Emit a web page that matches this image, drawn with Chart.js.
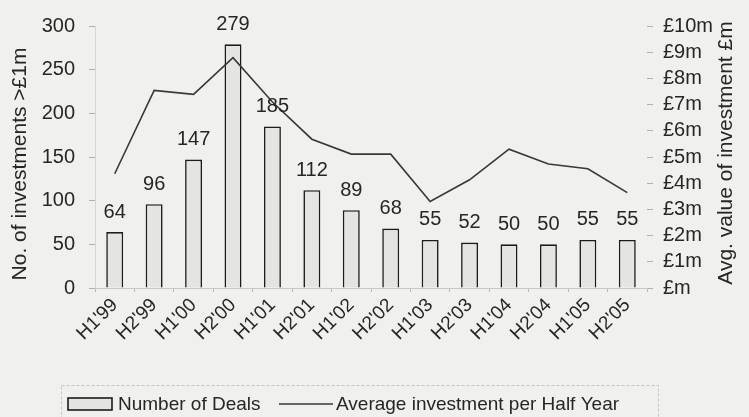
<!DOCTYPE html>
<html>
<head>
<meta charset="utf-8">
<script src="https://cdn.jsdelivr.net/npm/chart.js@4/dist/chart.umd.min.js"></script>
<style>
  html, body { margin: 0; padding: 0; background: #f0f0ee; }
  #wrap { width: 749px; height: 417px; position: relative; }
</style>
</head>
<body>
<div id="wrap"><canvas id="c" width="749" height="417"></canvas></div>
<script>
// Half-year periods
const periods = ["H1'99", "H2'99", "H1'00", "H2'00", "H1'01", "H2'01", "H1'02",
                 "H2'02", "H1'03", "H2'03", "H1'04", "H2'04", "H1'05", "H2'05"];

// Number of investments above £1m per half year
const dealCounts = [64, 96, 147, 279, 185, 112, 89, 68, 55, 52, 50, 50, 55, 55];

// Average investment per half year, £m
const avgInvestment = [4.36, 7.54, 7.39, 8.79, 7.1, 5.68, 5.11, 5.11, 3.3, 4.13, 5.3, 4.73, 4.55, 3.64];

// Right-hand axis tick labels (0 .. 10)
const valueTickLabels = ["£m", "£1m", "£2m", "£3m", "£4m", "£5m", "£6m", "£7m", "£8m", "£9m", "£10m"];

const dealsLabel = "Number of Deals";
const avgLabel = "Average investment per Half Year";
const leftTitle = "No. of investments >£1m";
const rightTitle = "Avg. value of investment £m";

const FONT = '"Liberation Sans", Arial, Helvetica, sans-serif';
const INK = '#262626';
const PAPER = '#f0f0ee';

const paperPlugin = {
  id: 'paper',
  beforeDraw(chart) {
    const ctx = chart.ctx;
    ctx.save();
    ctx.fillStyle = PAPER;
    ctx.fillRect(0, 0, chart.width, chart.height);
    ctx.restore();
  }
};

// Value labels above each bar
const barValuePlugin = {
  id: 'barValues',
  afterDatasetsDraw(chart) {
    const ctx = chart.ctx;
    chart.data.datasets.forEach((ds, i) => {
      if (ds.type !== 'bar') return;
      const meta = chart.getDatasetMeta(i);
      ctx.save();
      ctx.font = '20px ' + FONT;
      ctx.fillStyle = INK;
      ctx.textAlign = 'center';
      ctx.textBaseline = 'middle';
      meta.data.forEach((bar, j) => {
        ctx.fillText(String(ds.data[j]), bar.x, bar.y - 20);
      });
      ctx.restore();
    });
  }
};

function verticalText(ctx, text, x, y) {
  ctx.save();
  ctx.fillStyle = INK;
  ctx.font = '21px ' + FONT;
  ctx.translate(x, y);
  ctx.rotate(-Math.PI / 2);
  ctx.textAlign = 'center';
  ctx.textBaseline = 'middle';
  ctx.fillText(text, 0, 0);
  ctx.restore();
}

// Axis titles reading bottom-to-top, and the boxed legend underneath
const extrasPlugin = {
  id: 'extras',
  afterDraw(chart) {
    const ctx = chart.ctx;
    const yl = chart.scales.yDeals;
    const yr = chart.scales.yVal;
    verticalText(ctx, leftTitle, 20, (yl.top + yl.bottom) / 2 + 7);
    verticalText(ctx, rightTitle, 726, (yr.top + yr.bottom) / 2 - 4);

    // legend frame
    ctx.save();
    ctx.strokeStyle = '#c4c4c2';
    ctx.lineWidth = 1;
    ctx.setLineDash([3, 2]);
    ctx.strokeRect(61.5, 385.5, 597, 50);
    ctx.restore();

    const barDs = chart.data.datasets.find(d => d.type === 'bar');
    const lineDs = chart.data.datasets.find(d => d.type === 'line');
    const cy = 404;
    ctx.save();
    // bar swatch
    ctx.fillStyle = barDs.backgroundColor;
    ctx.fillRect(68, cy - 6, 44, 12);
    ctx.strokeStyle = barDs.borderColor;
    ctx.lineWidth = 1.6;
    ctx.strokeRect(68, cy - 6, 44, 12);
    ctx.font = '19px ' + FONT;
    ctx.fillStyle = INK;
    ctx.textBaseline = 'middle';
    ctx.textAlign = 'left';
    ctx.fillText(barDs.label, 118, cy + 1);
    // line swatch
    ctx.strokeStyle = lineDs.borderColor;
    ctx.lineWidth = 1.4;
    ctx.beginPath();
    ctx.moveTo(279, cy);
    ctx.lineTo(333, cy);
    ctx.stroke();
    ctx.fillText(lineDs.label, 336, cy + 1);
    ctx.restore();
  }
};

new Chart(document.getElementById('c'), {
  data: {
    labels: periods,
    datasets: [
      {
        type: 'line',
        label: avgLabel,
        data: avgInvestment,
        yAxisID: 'yVal',
        borderColor: '#383838',
        borderWidth: 1.6,
        pointRadius: 0,
        tension: 0,
        fill: false,
        order: 0
      },
      {
        type: 'bar',
        label: dealsLabel,
        data: dealCounts,
        yAxisID: 'yDeals',
        backgroundColor: '#e4e4e2',
        borderColor: '#1c1c1c',
        borderWidth: 1.6,
        barPercentage: 0.43,
        categoryPercentage: 1,
        order: 1
      }
    ]
  },
  options: {
    responsive: false,
    animation: false,
    devicePixelRatio: 1,
    layout: { padding: { top: 24, left: 0, right: 0, bottom: 0 } },
    plugins: {
      legend: { display: false },
      tooltip: { enabled: false }
    },
    scales: {
      x: {
        offset: true,
        grid: { display: true, drawOnChartArea: false, offset: true, tickLength: 4, color: '#b8b8b6' },
        border: { display: true, color: '#c8c8c6', dash: [2, 2] },
        ticks: { minRotation: 45, maxRotation: 45, autoSkip: false, padding: 2, color: INK, font: { size: 19, family: FONT } },
        afterFit(s) { s.height = 129; }
      },
      yDeals: {
        position: 'left',
        min: 0,
        max: 300,
        ticks: { stepSize: 50, padding: 14, autoSkip: false, color: INK, font: { size: 20, family: FONT } },
        grid: { display: true, drawOnChartArea: false, tickLength: 6, color: '#b0b0ae' },
        border: { display: true, color: '#d6d6d4', dash: [2, 2] },
        afterFit(s) { s.width = 95; }
      },
      yVal: {
        position: 'right',
        min: 0,
        max: 10,
        ticks: {
          stepSize: 1, padding: 10, autoSkip: false, color: INK, font: { size: 20, family: FONT },
          callback: (v, i) => valueTickLabels[i]
        },
        grid: { display: true, drawOnChartArea: false, tickLength: 6, color: '#b0b0ae' },
        border: { display: false },
        afterFit(s) { s.width = 102; }
      }
    }
  },
  plugins: [paperPlugin, barValuePlugin, extrasPlugin]
});
</script>
</body>
</html>
